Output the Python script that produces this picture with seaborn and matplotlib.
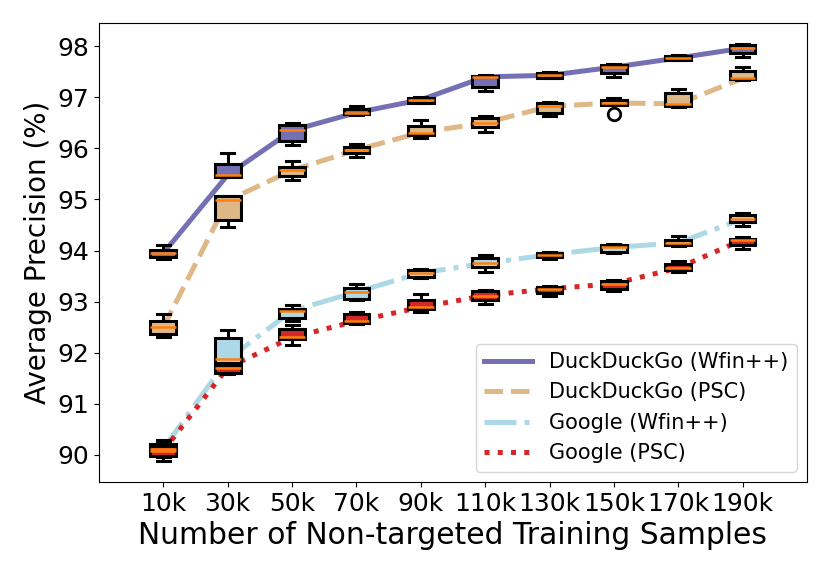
import numpy as np
import pandas as pd
import seaborn as sns
import matplotlib
matplotlib.use('Agg')
import matplotlib.pyplot as plt

# Training-set sizes (x categories)
sizes = ['10k', '30k', '50k', '70k', '90k', '110k', '130k', '150k', '170k', '190k']
series_names = ['DuckDuckGo (Wfin++)', 'DuckDuckGo (PSC)', 'Google (Wfin++)', 'Google (PSC)']

# Five-number summaries: [low whisker, Q1, median, Q3, high whisker]
ddg_wfin = [
    [93.84, 93.87, 93.95, 94.01, 94.10],
    [95.44, 95.44, 95.48, 95.69, 95.90],
    [96.07, 96.15, 96.35, 96.46, 96.50],
    [96.65, 96.67, 96.70, 96.78, 96.83],
    [96.88, 96.89, 96.95, 96.99, 97.01],
    [97.12, 97.21, 97.40, 97.41, 97.43],
    [97.37, 97.38, 97.43, 97.47, 97.49],
    [97.39, 97.48, 97.59, 97.63, 97.66],
    [97.72, 97.73, 97.77, 97.81, 97.82],
    [97.79, 97.86, 97.96, 98.02, 98.05],
]
ddg_psc = [
    [92.30, 92.36, 92.50, 92.63, 92.75],
    [94.47, 94.60, 94.98, 95.06, 95.07],
    [95.39, 95.46, 95.57, 95.64, 95.76],
    [95.83, 95.90, 95.97, 96.03, 96.08],
    [96.20, 96.26, 96.31, 96.44, 96.55],
    [96.32, 96.41, 96.50, 96.60, 96.63],
    [96.63, 96.70, 96.82, 96.88, 96.91],
    [96.84, 96.85, 96.89, 96.94, 96.99],
    [96.81, 96.83, 96.87, 97.09, 97.17],
    [97.34, 97.35, 97.37, 97.51, 97.59],
]
google_wfin = [
    [89.95, 90.02, 90.12, 90.22, 90.30],
    [91.75, 91.80, 91.87, 92.28, 92.45],
    [92.62, 92.68, 92.82, 92.86, 92.94],
    [93.04, 93.06, 93.19, 93.27, 93.34],
    [93.47, 93.49, 93.56, 93.61, 93.63],
    [93.58, 93.67, 93.75, 93.86, 93.92],
    [93.84, 93.87, 93.92, 93.95, 93.97],
    [93.96, 93.98, 94.06, 94.11, 94.13],
    [94.08, 94.10, 94.15, 94.21, 94.29],
    [94.49, 94.55, 94.62, 94.70, 94.73],
]
google_psc = [
    [89.88, 89.98, 90.08, 90.18, 90.25],
    [91.58, 91.61, 91.71, 91.76, 91.80],
    [92.15, 92.26, 92.30, 92.47, 92.55],
    [92.57, 92.59, 92.62, 92.75, 92.80],
    [92.80, 92.86, 92.89, 93.04, 93.14],
    [92.96, 93.04, 93.12, 93.20, 93.22],
    [93.12, 93.17, 93.25, 93.28, 93.30],
    [93.21, 93.25, 93.35, 93.40, 93.43],
    [93.58, 93.61, 93.66, 93.74, 93.80],
    [94.03, 94.10, 94.21, 94.23, 94.26],
]
# The single outlier (DuckDuckGo PSC at 150k)
outliers = {('DuckDuckGo (PSC)', '150k'): 96.68}

colors = ['#7570b3', '#deb887', '#add8e6', '#d62728']
linestyles = ['-', '--', '-.', ':']
all_series = [ddg_wfin, ddg_psc, google_wfin, google_psc]

# Expand each summary into 9 samples whose quartiles equal the summary exactly
rows = []
for name, summaries in zip(series_names, all_series):
    for size, (lo, q1, med, q3, hi) in zip(sizes, summaries):
        first = outliers.get((name, size), lo)
        for v in [first, lo, q1, q1, med, q3, q3, hi, hi]:
            rows.append({'size': size, 'series': name, 'value': v})
df = pd.DataFrame(rows)

fig = plt.figure(figsize=(8.29, 5.74), dpi=100)
ax = fig.add_axes([0.1194, 0.1603, 0.854, 0.8002])

# Median lines drawn beneath the boxes
positions = np.arange(len(sizes))
for name, summaries, color, ls in zip(series_names, all_series, colors, linestyles):
    medians = [s[2] for s in summaries]
    sns.lineplot(x=positions, y=medians, ax=ax, color=color, linestyle=ls,
                 linewidth=3.6, label=name, zorder=1)

sns.boxplot(data=df, x='size', y='value', hue='series', order=sizes,
            hue_order=series_names, palette=colors, saturation=1, dodge=False,
            width=0.4, whis=1.5, linecolor='black', linewidth=2.2, legend=False,
            medianprops={'color': '#ff7f0e', 'linewidth': 1.8},
            flierprops={'marker': 'o', 'markerfacecolor': 'none',
                        'markeredgecolor': 'black', 'markersize': 9,
                        'markeredgewidth': 2},
            ax=ax)

ax.set_xlim(-1, 10)
ax.set_ylim(89.47, 98.46)
ax.set_yticks(range(90, 99))
ax.tick_params(axis='both', labelsize=18)
ax.set_xlabel('Number of Non-targeted Training Samples', fontsize=21.4)
ax.set_ylabel('Average Precision (%)', fontsize=20)

leg = ax.legend(loc='lower right', fontsize=15, handlelength=2.3)

fig.savefig('out.png', dpi=100)
